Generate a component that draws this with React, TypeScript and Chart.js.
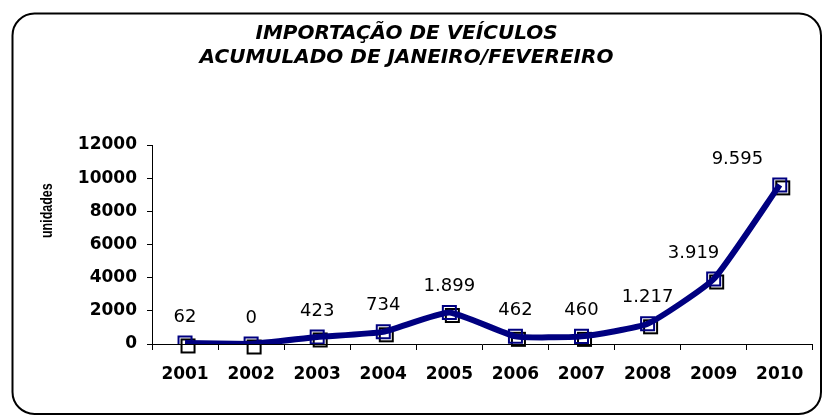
import { useEffect, useRef } from "react";
import { Chart, registerables } from "chart.js";

Chart.register(...registerables);

const years = ["2001", "2002", "2003", "2004", "2005", "2006", "2007", "2008", "2009", "2010"];
const units = [62, 0, 423, 734, 1899, 462, 460, 1217, 3919, 9595];
const yMin = 0;
const yMax = 12000;
const yStep = 2000;
const titleLines = ["IMPORTAÇÃO DE VEÍCULOS", "ACUMULADO DE JANEIRO/FEVEREIRO"];
const yAxisTitle = "unidades";

const NAVY = "#000080";

const fmtPt = (v: number) => String(v).replace(/\B(?=(\d{3})+(?!\d))/g, ".");

const framePlugin = {
  id: "frame",
  beforeDraw(chart: any) {
    const ctx = chart.ctx;
    ctx.save();
    ctx.fillStyle = "#ffffff";
    ctx.fillRect(0, 0, chart.width, chart.height);
    ctx.beginPath();
    (ctx as any).roundRect(12.5, 13.5, 808.5, 400.5, 22);
    ctx.lineWidth = 2;
    ctx.strokeStyle = "#000000";
    ctx.stroke();
    ctx.restore();
  },
};

const shadowPlugin = {
  id: "markerShadow",
  beforeDatasetsDraw(chart: any) {
    const ctx = chart.ctx;
    const meta = chart.getDatasetMeta(0);
    ctx.save();
    ctx.strokeStyle = "#000000";
    ctx.lineWidth = 2;
    meta.data.forEach((p: any) => {
      ctx.strokeRect(p.x + 3 - 6.5, p.y + 3 - 6.5, 13, 13);
    });
    ctx.restore();
  },
};

const labelPlugin = {
  id: "valueLabels",
  afterDatasetsDraw(chart: any) {
    const ctx = chart.ctx;
    const meta = chart.getDatasetMeta(0);
    const data = chart.data.datasets[0].data as number[];
    ctx.save();
    ctx.font = "18px 'DejaVu Sans'";
    ctx.fillStyle = "#000000";
    ctx.textAlign = "center";
    ctx.textBaseline = "middle";
    meta.data.forEach((p: any, i: number) => {
      let dx = 0;
      if (i > 0) {
        const rise = meta.data[i - 1].y - p.y;
        if (rise > 30) dx = -0.45 * rise;
      }
      ctx.fillText(fmtPt(data[i]), p.x + dx, p.y - 26);
    });
    ctx.restore();
  },
};

const yTitlePlugin = {
  id: "yTitle",
  afterDraw(chart: any) {
    const ctx = chart.ctx;
    const a = chart.chartArea;
    ctx.save();
    ctx.translate(47.5, a.top + (a.bottom - a.top) * 0.33);
    ctx.rotate(-Math.PI / 2);
    ctx.scale(1, 1.25);
    ctx.font = "bold 12.5px 'Liberation Sans'";
    ctx.fillStyle = "#000000";
    ctx.textAlign = "center";
    ctx.textBaseline = "middle";
    ctx.fillText(yAxisTitle, 0, 0);
    ctx.restore();
  },
};

export default function App() {
  const ref = useRef<HTMLCanvasElement>(null);
  useEffect(() => {
    const chart = new Chart(ref.current!, {
      type: "line",
      data: {
        labels: years,
        datasets: [
          {
            data: units,
            borderColor: NAVY,
            borderWidth: 6,
            tension: 0.15,
            pointStyle: "rect",
            pointRadius: 9.2,
            pointBorderWidth: 2,
            pointBorderColor: NAVY,
            pointBackgroundColor: "rgba(255,255,255,0)",
            fill: false,
          },
        ],
      },
      plugins: [framePlugin, shadowPlugin, labelPlugin, yTitlePlugin],
      options: {
        responsive: false,
        animation: false,
        devicePixelRatio: 1,
        layout: { padding: { left: 0, right: 11, top: 0, bottom: 0 } },
        plugins: {
          legend: { display: false },
          tooltip: { enabled: false },
          title: {
            display: true,
            text: titleLines,
            color: "#000000",
            font: { family: "'DejaVu Sans'", size: 20, weight: "bold", style: "italic", lineHeight: 1.2 },
            padding: { top: 22, bottom: 75 },
          },
        },
        scales: {
          x: {
            type: "category",
            offset: true,
            afterFit(scale: any) {
              scale.height = 72;
            },
            border: { display: true, color: "#000000", width: 1 },
            grid: {
              display: true,
              offset: true,
              drawOnChartArea: false,
              drawTicks: true,
              tickLength: 6,
              color: "#000000",
            },
            ticks: {
              color: "#000000",
              padding: 14,
              font: { family: "'DejaVu Sans'", size: 17, weight: "bold" },
              maxRotation: 0,
            },
          },
          y: {
            min: yMin,
            max: yMax,
            afterFit(scale: any) {
              scale.width = 152;
            },
            border: { display: true, color: "#000000", width: 1 },
            grid: {
              display: true,
              drawOnChartArea: false,
              drawTicks: true,
              tickLength: 5,
              color: "#000000",
            },
            ticks: {
              stepSize: yStep,
              color: "#000000",
              padding: 10,
              font: { family: "'DejaVu Sans'", size: 17, weight: "bold" },
              callback: (v: any) => String(v),
            },
          },
        },
      },
    });
    return () => chart.destroy();
  }, []);
  return (
    <div style={{ position: "fixed", left: 0, top: 0, width: 824, height: 416 }}>
      <canvas ref={ref} width={824} height={416} style={{ display: "block", width: 824, height: 416 }} />
    </div>
  );
}
